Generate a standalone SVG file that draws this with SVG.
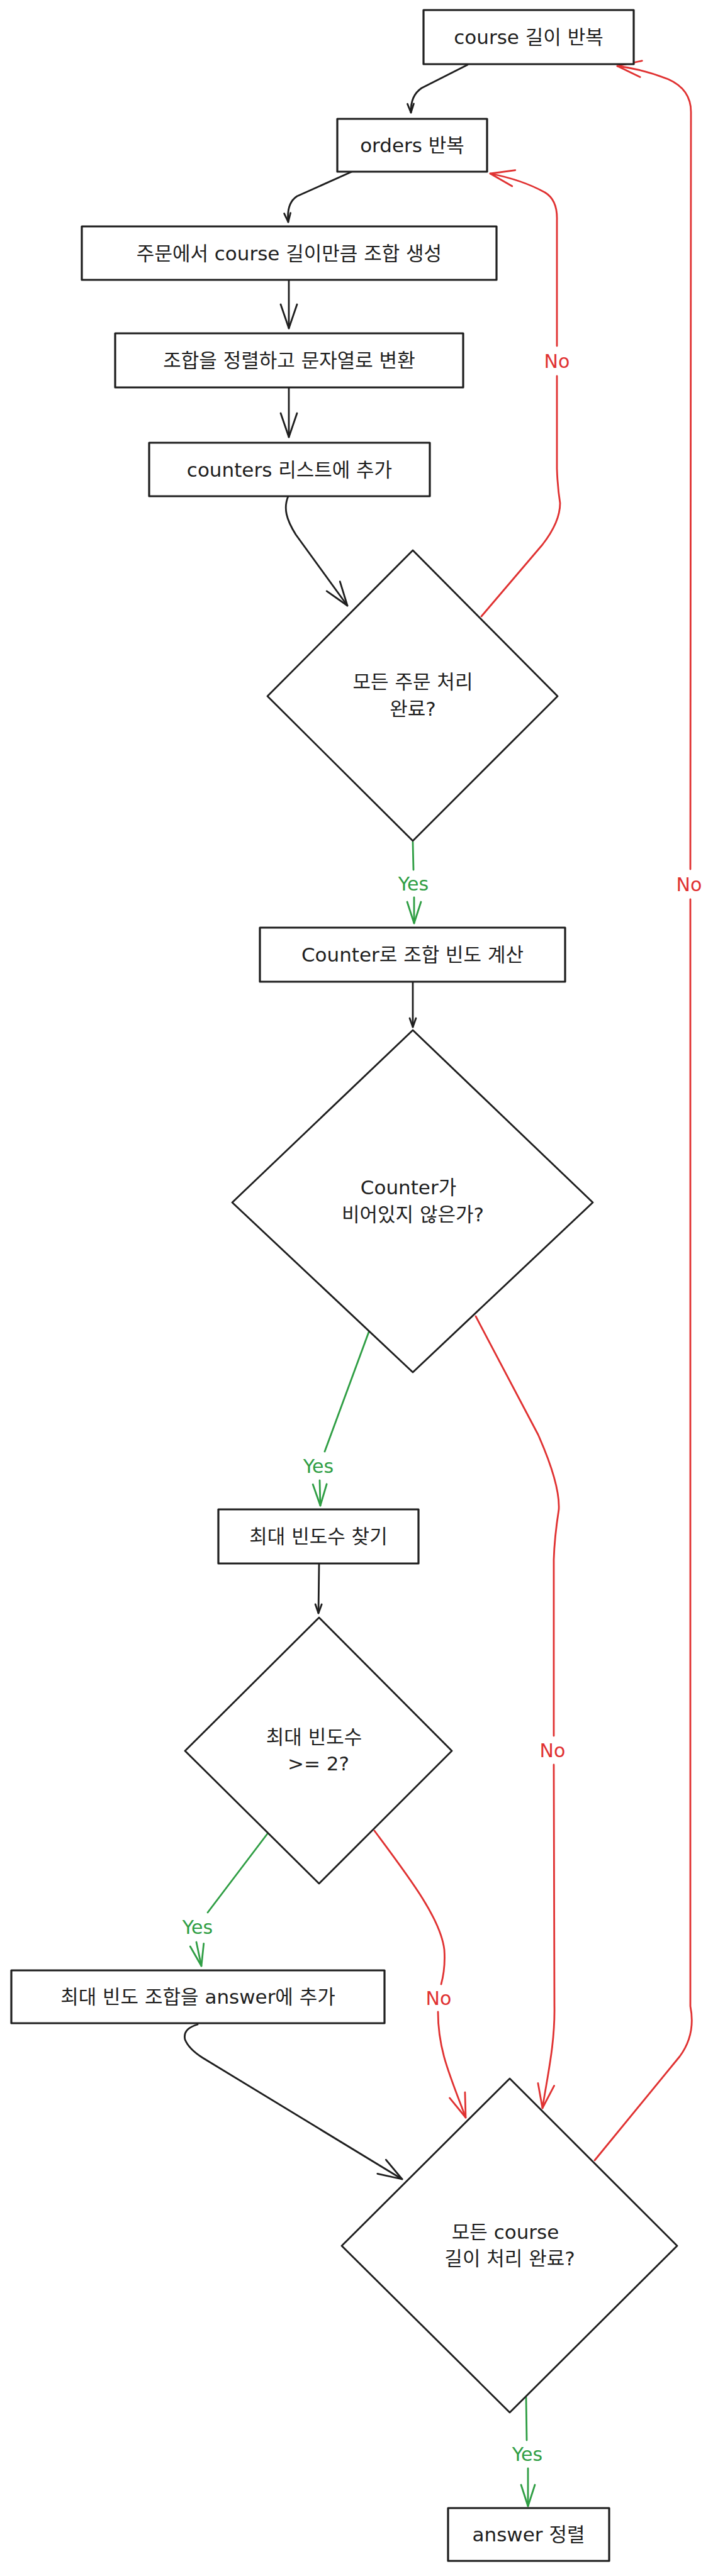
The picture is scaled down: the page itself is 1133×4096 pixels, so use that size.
<svg xmlns="http://www.w3.org/2000/svg" width="1133" height="4096" viewBox="0 0 1133 4096">
<defs>
<style>
.node rect { fill: #ffffff; stroke: #1e1e1e; stroke-width: 3.2; stroke-linejoin: round; }
.node polygon { fill: #ffffff; stroke: #1e1e1e; stroke-width: 2.8; stroke-linejoin: round; }
.t { font-family: "DejaVu Sans", "Noto Sans CJK KR", sans-serif; font-size: 31px; fill: #1e1e1e; text-anchor: middle; dominant-baseline: central; }
.lbl { font-family: "DejaVu Sans", "Noto Sans CJK KR", sans-serif; font-size: 30px; text-anchor: middle; dominant-baseline: central; }
.lr { fill: #e03131; }
.lg { fill: #2f9e44; }
.c { fill: none; stroke-width: 2.8; stroke-linecap: round; stroke-linejoin: round; }
.k { stroke: #1e1e1e; }
.r { stroke: #e03131; }
.g { stroke: #2f9e44; }
.mh { fill: none; stroke-width: 2.8; stroke-linecap: round; stroke-linejoin: round; }
</style>
<marker id="ak" markerUnits="userSpaceOnUse" markerWidth="44" markerHeight="30" refX="40" refY="14" orient="auto" overflow="visible">
<path class="mh" d="M2,1 L40,14 L2,27" stroke="#1e1e1e"/>
</marker>
<marker id="aks" markerUnits="userSpaceOnUse" markerWidth="18" markerHeight="14" refX="15" refY="6" orient="auto" overflow="visible">
<path class="mh" d="M1,1 L15,6 L1,11" stroke="#1e1e1e"/>
</marker>
<marker id="ar" markerUnits="userSpaceOnUse" markerWidth="44" markerHeight="30" refX="40" refY="14" orient="auto" overflow="visible">
<path class="mh" d="M2,1 L40,14 L2,27" stroke="#e03131"/>
</marker>
<marker id="ag" markerUnits="userSpaceOnUse" markerWidth="38" markerHeight="26" refX="35" refY="12" orient="auto" overflow="visible">
<path class="mh" d="M1,1 L35,12 L1,23" stroke="#2f9e44"/>
</marker>
</defs>
<rect x="0" y="0" width="1133" height="4096" fill="#ffffff"/>

<g id="connectors">
<path class="c k" d="M743,103 L670,140 Q652,152 653,179" marker-end="url(#aks)"/>
<path class="c k" d="M559,273 L472,312 Q455,323 458,353" marker-end="url(#aks)"/>
<path class="c k" d="M459,445 L459,522" marker-end="url(#ak)"/>
<path class="c k" d="M459,616 L459,695" marker-end="url(#ak)"/>
<path class="c k" d="M458,789 C450,808 455,826 470,850 L552,963" marker-end="url(#ak)"/>
<path class="c g" d="M656,1339 L657,1383"/>
<path class="c g" d="M658,1427 L658,1468" marker-end="url(#ag)"/>
<path class="c k" d="M656,1561 L656,1633" marker-end="url(#aks)"/>
<path class="c g" d="M586,2118 L516,2308"/>
<path class="c g" d="M508,2354 L509,2394" marker-end="url(#ag)"/>
<path class="c k" d="M507,2486 L506,2565" marker-end="url(#aks)"/>
<path class="c r" d="M756,2093 L855,2281 Q890,2360 888,2400 Q881,2445 880,2480 L880,2760"/>
<path class="c r" d="M880,2806 L881,3190 C882,3250 870,3300 862,3352" marker-end="url(#ar)"/>
<path class="c g" d="M427,2913 L330,3041"/>
<path class="c g" d="M312,3088 L320,3126" marker-end="url(#ag)"/>
<path class="c r" d="M595,2911 C650,2985 700,3050 706,3100 Q708,3130 701,3155"/>
<path class="c r" d="M696,3199 C696,3260 715,3300 740,3367" marker-end="url(#ar)"/>
<path class="c r" d="M765,980 L862,866 Q890,830 890,800 Q886,775 885,745 L885,598"/>
<path class="c r" d="M885,550 L885,350 Q886,318 866,306 Q830,286 779,276" marker-end="url(#ar)"/>
<path class="c r" d="M945,3435 L1080,3270 Q1106,3235 1097,3190 L1097,1430"/>
<path class="c r" d="M1097,1382 L1098,178 Q1098,142 1062,126 Q1022,110 981,105" marker-end="url(#ar)"/>
<path class="c k" d="M314,3219 Q290,3226 294,3243 Q300,3258 322,3272 L639,3465" marker-end="url(#ak)"/>
<path class="c g" d="M836,3812 L837,3880"/>
<path class="c g" d="M839,3925 L839,3985" marker-end="url(#ag)"/>
<text class="lbl lr" x="885" y="574">No</text>
<text class="lbl lg" x="657" y="1405">Yes</text>
<text class="lbl lr" x="1095" y="1406">No</text>
<text class="lbl lg" x="506" y="2331">Yes</text>
<text class="lbl lr" x="878" y="2783">No</text>
<text class="lbl lg" x="314" y="3064">Yes</text>
<text class="lbl lr" x="697" y="3177">No</text>
<text class="lbl lg" x="838" y="3902">Yes</text>
</g>

<g id="n1" class="node">
<rect x="673" y="16" width="334" height="86"/>
<text class="t" x="840" y="59">course 길이 반복</text>
</g>
<g id="n2" class="node">
<rect x="536" y="189" width="238" height="84"/>
<text class="t" x="655" y="231">orders 반복</text>
</g>
<g id="n3" class="node">
<rect x="130" y="360" width="659" height="85"/>
<text class="t" x="459.5" y="402.5">주문에서 course 길이만큼 조합 생성</text>
</g>
<g id="n4" class="node">
<rect x="183" y="530" width="553" height="86"/>
<text class="t" x="459.5" y="573">조합을 정렬하고 문자열로 변환</text>
</g>
<g id="n5" class="node">
<rect x="237" y="704" width="446" height="85"/>
<text class="t" x="460" y="746.5">counters 리스트에 추가</text>
</g>
<g id="d1" class="node">
<polygon points="656,875 886,1107 656,1337 425,1107"/>
<text class="t" x="656" y="1084">모든 주문 처리</text>
<text class="t" x="656" y="1127">완료?</text>
</g>
<g id="n7" class="node">
<rect x="413" y="1475" width="485" height="86"/>
<text class="t" x="655.5" y="1518">Counter로 조합 빈도 계산</text>
</g>
<g id="d2" class="node">
<polygon points="656,1638 942,1912 656,2182 369,1912"/>
<text class="t" x="649" y="1888">Counter가</text>
<text class="t" x="656" y="1931">비어있지 않은가?</text>
</g>
<g id="n9" class="node">
<rect x="347" y="2400" width="318" height="86"/>
<text class="t" x="506" y="2443">최대 빈도수 찾기</text>
</g>
<g id="d3" class="node">
<polygon points="507,2572 718,2784 507,2995 294,2784"/>
<text class="t" x="499" y="2762">최대 빈도수</text>
<text class="t" x="506" y="2804">&gt;= 2?</text>
</g>
<g id="n11" class="node">
<rect x="18" y="3133" width="593" height="84"/>
<text class="t" x="314.5" y="3175">최대 빈도 조합을 answer에 추가</text>
</g>
<g id="d4" class="node">
<polygon points="810,3305 1076,3571 810,3836 543,3571"/>
<text class="t" x="803" y="3549">모든 course</text>
<text class="t" x="810" y="3591">길이 처리 완료?</text>
</g>
<g id="n13" class="node">
<rect x="712" y="3988" width="256" height="84"/>
<text class="t" x="840" y="4030">answer 정렬</text>
</g>
</svg>
